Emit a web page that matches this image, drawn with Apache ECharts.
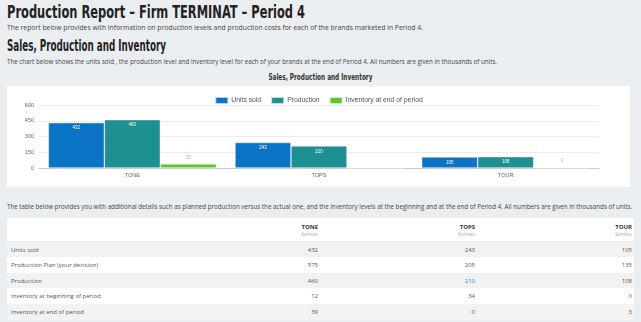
<!DOCTYPE html>
<html><head><meta charset="utf-8">
<script src="https://cdn.jsdelivr.net/npm/echarts@6/dist/echarts.min.js"></script>
<style>
html,body{margin:0;padding:0;}
body{width:641px;height:322px;overflow:hidden;background:#ebeef1;position:relative;font-family:"Open Sans","Noto Sans",sans-serif;color:#444;}
.t{position:absolute;white-space:nowrap;line-height:1;transform-origin:0 50%;}
.cond{font-family:"DejaVu Sans Condensed","Liberation Sans Narrow","DejaVu Sans",sans-serif;font-stretch:condensed;color:#222;font-weight:bold;}
#chart{position:absolute;left:7px;top:86px;width:623px;height:101px;background:#fff;}
#tbl{position:absolute;left:7px;top:218px;width:627px;}
.row{position:absolute;left:0;width:627px;}
.cell{position:absolute;white-space:nowrap;line-height:1;font-size:6px;color:#555;}
</style></head>
<body>
<div class="t cond" id="h1" data-w="298" style="left:7px;top:3px;font-size:18px;">Production Report – Firm TERMINAT – Period 4</div>
<div class="t" id="p1" data-w="416" style="left:7px;top:24px;font-size:7px;">The report below provides with information on production levels and production costs for each of the brands marketed in Period 4.</div>
<div class="t cond" id="h2" data-w="159" style="left:7px;top:39px;font-size:15px;">Sales, Production and Inventory</div>
<div class="t" id="p2" data-w="490" style="left:7px;top:58px;font-size:7px;">The chart below shows the units sold , the production level and inventory level for each of your brands at the end of Period 4. All numbers are given in thousands of units.</div>
<div class="t cond" id="ct" data-w="104" data-c="320" style="top:73px;font-size:9px;color:#333;">Sales, Production and Inventory</div>
<div id="chart"></div>
<div class="t" id="p3" data-w="625" style="left:7px;top:203px;font-size:7px;">The table below provides you with additional details such as planned production versus the actual one, and the inventory levels at the beginning and at the end of Period 4. All numbers are given in thousands of units.</div>
<div id="tbl"></div>
<script>
const categories = ['TONE', 'TOPS', 'TOUR'];
const seriesNames = ['Units sold', 'Production', 'Inventory at end of period'];
const unitsSold = [432, 243, 105];
const productionPlan = [575, 205, 135];
const production = [460, 210, 108];
const inventoryBegin = [12, 34, 0];
const inventoryEnd = [39, 0, 3];
const yTicks = [0, 150, 300, 450, 600];
const unitLabel = 'Sonites';
const rowLabels = ['Units sold', 'Production Plan (your decision)', 'Production', 'Inventory at beginning of period', 'Inventory at end of period'];

// fit text widths
document.querySelectorAll('.t').forEach(el => {
  const w = +el.dataset.w;
  const nat = el.getBoundingClientRect().width;
  const s = w / nat;
  if (el.dataset.c) {
    el.style.left = (+el.dataset.c - nat / 2) + 'px';
    el.style.transformOrigin = '50% 50%';
  }
  el.style.transform = 'scaleX(' + s + ')';
});

// table
const tbl = document.getElementById('tbl');
const colRight = [311, 468, 625];
let html = '<div class="row" style="top:0;height:23px;background:#fff;">';
categories.forEach((c, i) => {
  html += '<div class="cell" style="right:' + (627 - colRight[i]) + 'px;top:6px;font-weight:bold;color:#333;">' + c + '</div>';
  html += '<div class="cell" style="right:' + (627 - colRight[i]) + 'px;top:14px;font-size:5px;color:#aaa;">' + unitLabel + '</div>';
});
html += '</div>';
const rowsData = [unitsSold, productionPlan, production, inventoryBegin, inventoryEnd];
const rowTops = [23.5, 39, 54.7, 70.3, 86];
rowsData.forEach((arr, r) => {
  const bg = r % 2 === 0 ? '#f2f2f2' : '#fff';
  html += '<div class="row" style="top:' + rowTops[r] + 'px;height:15.6px;background:' + bg + ';">';
  html += '<div class="cell" style="left:4px;top:5px;">' + rowLabels[r] + '</div>';
  arr.forEach((v, i) => {
    const col = (r === 2 && i === 1) ? '#1f80c4' : '#555';
    html += '<div class="cell" style="right:' + (627 - colRight[i]) + 'px;top:5px;color:' + col + ';">' + v + '</div>';
  });
  html += '</div>';
});
tbl.innerHTML = html;

const colors = ['#0b74c4', '#1f9091', '#5cc62d'];
const chart = echarts.init(document.getElementById('chart'), null, {renderer: 'canvas'});
const mk = (name, data, idx) => ({
  name: name, type: 'bar', data: data,
  barGap: 0, barCategoryGap: '10%',
  itemStyle: {color: colors[idx], borderColor: 'rgba(255,255,255,0.7)', borderWidth: 0.6},
  label: idx < 2
    ? {show: true, position: 'insideTop', distance: 3, color: '#fff', fontSize: 4.5}
    : {show: true, position: 'top', distance: 4, color: '#8fd46a', fontSize: 4.5,
       formatter: p => p.value === 0 ? '' : String(p.value)},
  emphasis: {disabled: true}
});
chart.setOption({
  animation: false,
  legend: {
    top: 5, left: 'center', itemWidth: 13, itemHeight: 7, itemGap: 9,
    icon: 'rect',
    textStyle: {fontSize: 6.8, color: '#555', padding: [0, 0, 0, -2]},
    data: seriesNames
  },
  grid: {left: 32, right: 31, top: 19, bottom: 19},
  xAxis: {
    type: 'category', data: categories,
    axisLine: {lineStyle: {color: '#c8c8c8', width: 1}},
    axisTick: {show: false},
    axisLabel: {fontSize: 5.5, color: '#666', margin: 4}
  },
  yAxis: {
    type: 'value', min: yTicks[0], max: yTicks[yTicks.length - 1], interval: 150,
    axisLabel: {fontSize: 5.5, color: '#666', margin: 5},
    splitLine: {lineStyle: {color: '#ebebeb'}},
    axisLine: {show: false}, axisTick: {show: false}
  },
  series: [mk(seriesNames[0], unitsSold, 0), mk(seriesNames[1], production, 1), mk(seriesNames[2], inventoryEnd, 2)]
});
</script>
</body></html>
